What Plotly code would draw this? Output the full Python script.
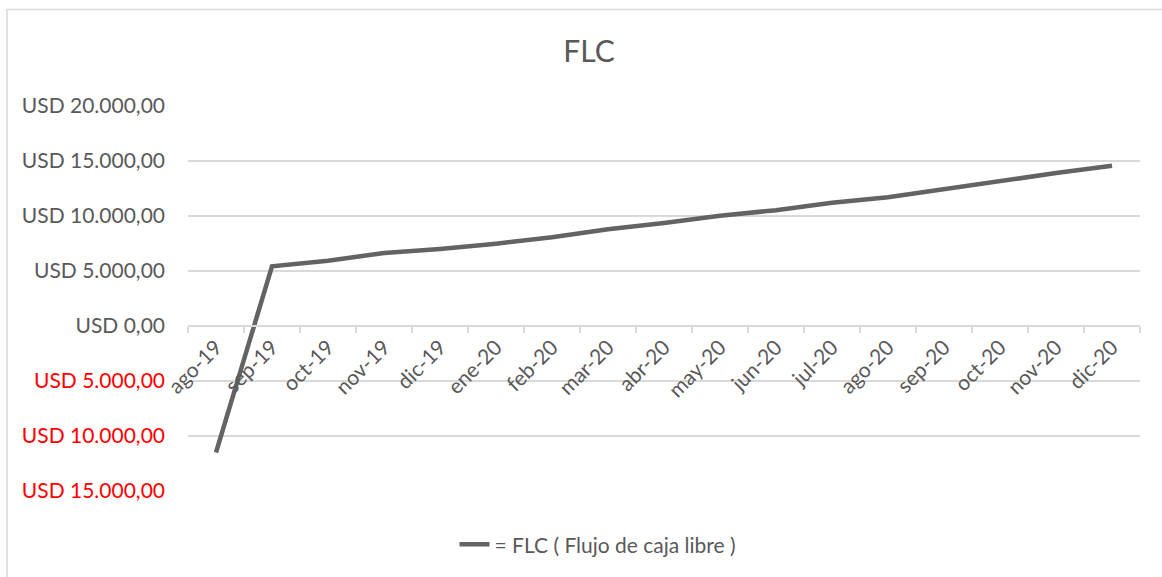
import plotly.graph_objects as go

# Monthly free cash flow (USD)
months = ["ago-19", "sep-19", "oct-19", "nov-19", "dic-19", "ene-20", "feb-20",
          "mar-20", "abr-20", "may-20", "jun-20", "jul-20", "ago-20", "sep-20",
          "oct-20", "nov-20", "dic-20"]
flc = [-11500, 5430, 5940, 6630, 7000, 7480, 8070, 8800, 9360, 10020,
       10530, 11200, 11700, 12450, 13200, 13900, 14560]

series_name = "= FLC ( Flujo de caja libre )"
y_ticks = [20000, 15000, 10000, 5000, 0, -5000, -10000, -15000]
y_tick_text = ["USD 20.000,00", "USD 15.000,00", "USD 10.000,00", "USD 5.000,00",
               "USD 0,00", "USD 5.000,00", "USD 10.000,00", "USD 15.000,00"]

W, H = 1162, 577
L, R, T, B = 188, 22, 106, 84
GRAY = "#595959"
GRID = "#d9d9d9"
FONT = "Lato"
FS = 21


def label(val, txt):
    color = "#ff0000" if val < 0 else GRAY
    return f'<span style="color:{color}">{txt}</span>'


fig = go.Figure()
fig.add_trace(go.Scatter(
    x=months, y=flc, mode="lines", name=series_name,
    line=dict(color="#636363", width=4.5),
))

ymin, ymax = -15000, 20000
fig.update_layout(
    width=W, height=H,
    margin=dict(l=L, r=R, t=T, b=B),
    paper_bgcolor="white", plot_bgcolor="white",
    font=dict(family=FONT, color=GRAY, size=FS),
    title=dict(text="FLC", x=589 / W, xref="container", xanchor="center",
               y=1 - 51 / H, yref="container", yanchor="middle",
               font=dict(family=FONT, size=30, color=GRAY)),
    showlegend=True,
    legend=dict(orientation="h", x=(598 - L) / (W - L - R), xanchor="center",
                y=(H - B - 547) / (H - T - B), yanchor="middle",
                font=dict(family=FONT, size=FS, color=GRAY),
                bgcolor="rgba(0,0,0,0)"),
    xaxis=dict(
        type="category", range=[-0.5, len(months) - 0.5],
        anchor="free", position=(0 - ymin) / (ymax - ymin),
        showgrid=False, zeroline=False,
        showline=True, linecolor=GRID, linewidth=1.5,
        ticks="outside", tickson="boundaries", ticklen=6,
        tickcolor=GRID, tickwidth=1.5,
        tickangle=-45, tickfont=dict(family=FONT, size=FS, color=GRAY),
    ),
    yaxis=dict(
        range=[ymin, ymax], tickvals=y_ticks,
        ticktext=[label(v, t) for v, t in zip(y_ticks, y_tick_text)],
        showgrid=True, gridcolor=GRID, gridwidth=1.5,
        zeroline=False, showline=False, ticks="",
        ticklabelstandoff=22,
        tickfont=dict(family=FONT, size=FS, color=GRAY),
    ),
    shapes=[dict(type="rect", xref="paper", yref="paper",
                 x0=(7 - L) / (W - L - R), x1=(W + 10 - L) / (W - L - R),
                 y0=(H - B - (H + 10)) / (H - T - B), y1=(H - B - 9) / (H - T - B),
                 line=dict(color=GRID, width=1.5), fillcolor="rgba(0,0,0,0)",
                 layer="below")],
)

fig.write_html("out.html")
